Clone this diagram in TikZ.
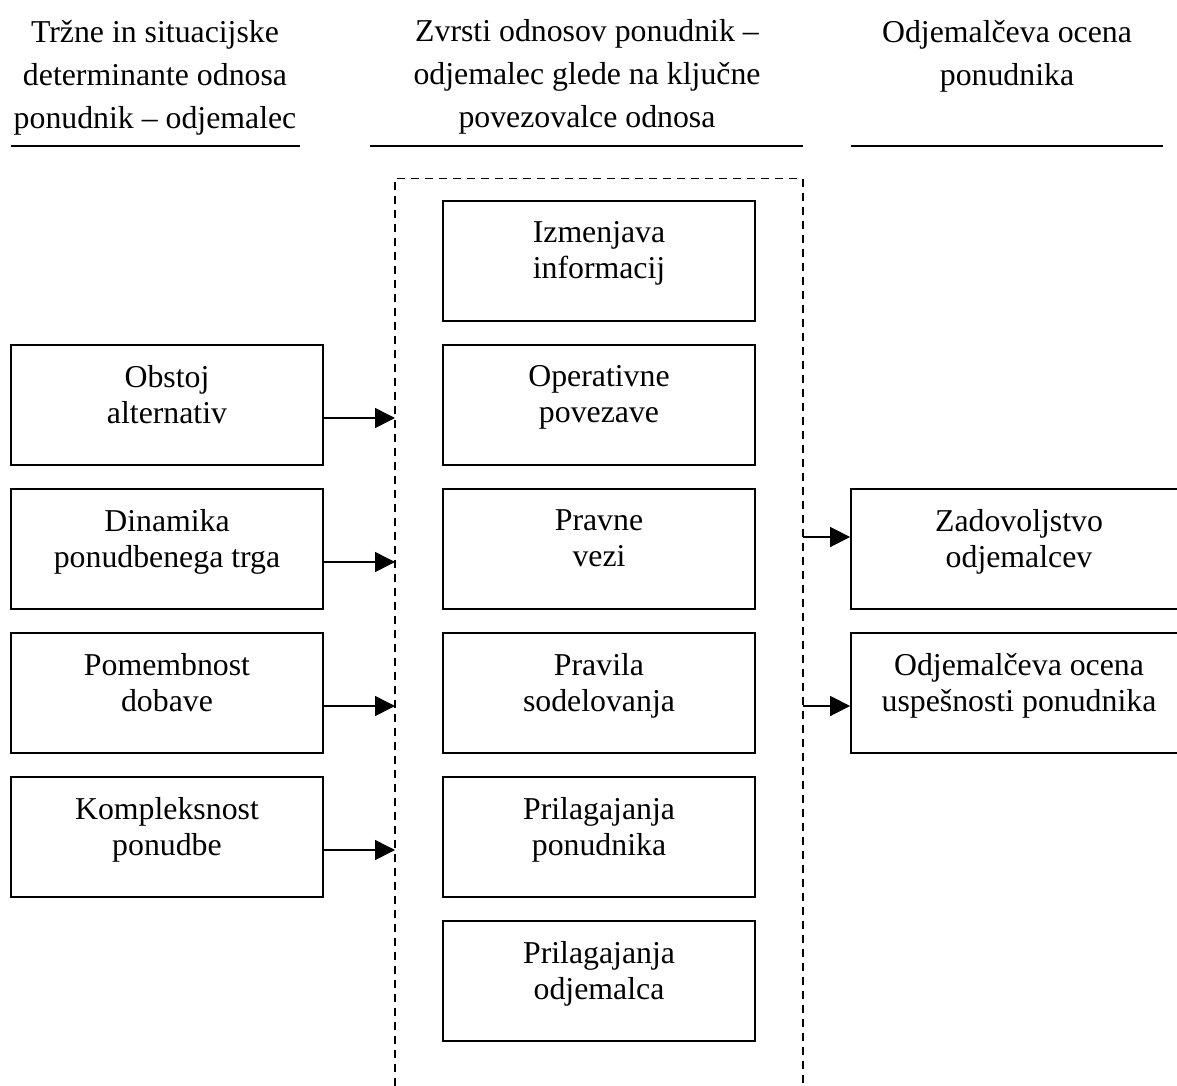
\documentclass[tikz,border=0pt]{standalone}
\usepackage{fontspec}
\setmainfont{Liberation Serif}
\usetikzlibrary{arrows.meta,calc}
\begin{document}
\begin{tikzpicture}[x=0.5pt,y=-0.5pt,
  box/.style={draw,line width=0.9pt,rectangle,inner sep=0pt,
              minimum width=156pt,minimum height=60pt},
  widebox/.style={box,minimum width=168pt},
  txt/.style={align=center,inner sep=0pt,anchor=north,
              font=\fontsize{15.9pt}{18pt}\selectfont},
  head/.style={align=center,inner sep=0pt,anchor=north,
               font=\fontsize{15.9pt}{21.5pt}\selectfont},
  rule/.style={line width=0.9pt},
  frame/.style={line width=0.75pt,dash pattern=on 4pt off 3pt},
  arr/.style={line width=0.8pt,-{Triangle[length=10pt,width=10pt]}}]

\path[use as bounding box] (0,0) rectangle (1177,1086);
\clip (0,0) rectangle (1177,1086);

% column headings with their rules
\node[head] (hL) at (155,19.5) {Tržne in situacijske\\determinante odnosa\\ponudnik – odjemalec};
\node[head] (hM) at (587,19.5) {Zvrsti odnosov ponudnik –\\odjemalec glede na ključne\\povezovalce odnosa};
\node[head] (hR) at (1007,19.5) {Odjemalčeva ocena\\ponudnika};
\draw[rule] (11,145.7) -- (300,145.7);
\draw[rule] (370,145.7) -- (803,145.7);
\draw[rule] (851,145.7) -- (1163,145.7);

% dashed frame around the middle column (open at the bottom)
\coordinate (fTL) at (395,178.3);
\coordinate (fTR) at (803,178.3);
\coordinate (fBL) at (395,1100);
\coordinate (fBR) at (803,1100);
\draw[frame] (fBL) -- (fTL) -- (fTR) -- (fBR);

% left column: determinants
\node[box] (l1) at (167,405) {};
\node[box] (l2) at (167,549) {};
\node[box] (l3) at (167,693) {};
\node[box] (l4) at (167,837) {};
\node[txt] (l1t) at ($(l1.north)+(0,21)$) {Obstoj\\alternativ};
\node[txt] (l2t) at ($(l2.north)+(0,21)$) {Dinamika\\ponudbenega trga};
\node[txt] (l3t) at ($(l3.north)+(0,21)$) {Pomembnost\\dobave};
\node[txt] (l4t) at ($(l4.north)+(0,21)$) {Kompleksnost\\ponudbe};

% middle column: relationship connectors
\node[box] (m1) at (599,261) {};
\node[box] (m2) at (599,405) {};
\node[box] (m3) at (599,549) {};
\node[box] (m4) at (599,693) {};
\node[box] (m5) at (599,837) {};
\node[box] (m6) at (599,981) {};
\node[txt] (m1t) at ($(m1.north)+(0,21)$) {Izmenjava\\informacij};
\node[txt] (m2t) at ($(m2.north)+(0,21)$) {Operativne\\povezave};
\node[txt] (m3t) at ($(m3.north)+(0,21)$) {Pravne\\vezi};
\node[txt] (m4t) at ($(m4.north)+(0,21)$) {Pravila\\sodelovanja};
\node[txt] (m5t) at ($(m5.north)+(0,21)$) {Prilagajanja\\ponudnika};
\node[txt] (m6t) at ($(m6.north)+(0,21)$) {Prilagajanja\\odjemalca};

% right column: customer evaluation
\node[widebox] (r1) at (1019,549) {};
\node[widebox] (r2) at (1019,693) {};
\node[txt] (r1t) at ($(r1.north)+(0,21)$) {Zadovoljstvo\\odjemalcev};
\node[txt] (r2t) at ($(r2.north)+(0,21)$) {Odjemalčeva ocena\\uspešnosti ponudnika};

% arrows into the frame
\foreach \n in {1,2,3,4}{
  \coordinate (a\n) at ($(l\n.east)+(0,13)$);
  \draw[arr] (a\n) -- (a\n -| fTL);
}
% arrows out of the frame
\coordinate (b1) at ($(r1.west)+(0,-12)$);
\coordinate (b2) at ($(r2.west)+(0,13)$);
\draw[arr] (b1 -| fTR) -- (b1);
\draw[arr] (b2 -| fTR) -- (b2);
\end{tikzpicture}
\end{document}
